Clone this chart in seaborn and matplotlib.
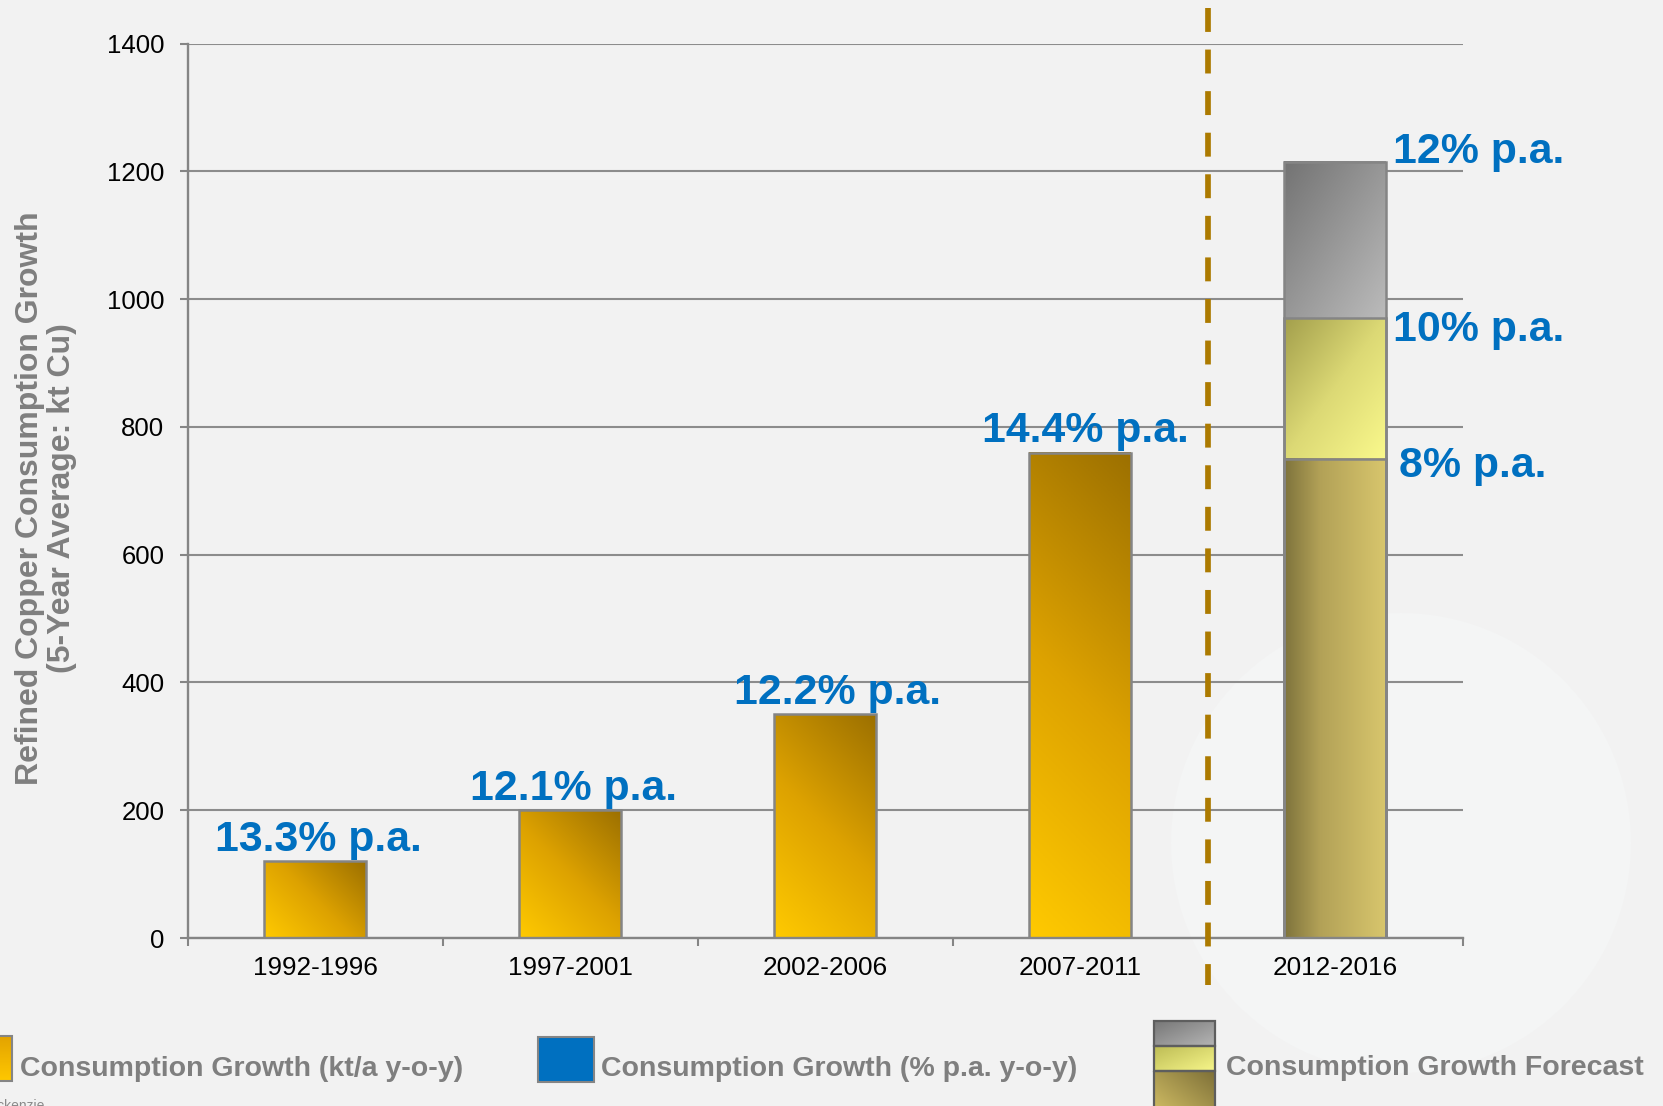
import numpy as np
import pandas as pd
import matplotlib
matplotlib.use("Agg")
import matplotlib.pyplot as plt
import matplotlib.transforms as mtransforms
from matplotlib.colors import LinearSegmentedColormap
from matplotlib.patches import Rectangle, Circle
import seaborn as sns

# ---------------- data ----------------
periods = ["1992-1996", "1997-2001", "2002-2006", "2007-2011", "2012-2016"]
hist_growth = [120, 200, 350, 760]                 # kt/a y-o-y (5-yr average)
hist_labels = ["13.3% p.a.", "12.1% p.a.", "12.2% p.a.", "14.4% p.a."]
forecast_period = "2012-2016"
forecast_growth = [750, 970, 1215]                 # cumulative levels: 8%, 10%, 12% p.a.
forecast_labels = ["8% p.a.", "10% p.a.", "12% p.a."]
y_ticks = [0, 200, 400, 600, 800, 1000, 1200, 1400]
legend_labels = ["Consumption Growth (kt/a y-o-y)",
                 "Consumption Growth (% p.a. y-o-y)",
                 "Consumption Growth Forecast"]
y_title = "Refined Copper Consumption Growth\n(5-Year Average: kt Cu)"

# ---------------- style ----------------
sns.set_theme(style="white")
plt.rcParams['font.family'] = ['Liberation Sans', 'DejaVu Sans']

BG = "#F2F2F2"
GRID = "#8C8C8C"
EDGE = "#858585"
BLUE = "#0070C0"
LGRAY = "#7F7F7F"
W, H, DPI = 1663, 1106, 100

fig = plt.figure(figsize=(W / DPI, H / DPI), dpi=DPI, facecolor=BG)

# faint watermark emblem behind the chart
bax = fig.add_axes([0, 0, 1, 1], zorder=0)
bax.set_xlim(0, W)
bax.set_ylim(H, 0)
bax.axis("off")
bax.add_patch(Circle((1401, 843), 230, facecolor="#F4F5F5", edgecolor="none"))

AX_L, AX_R, AX_T, AX_B = 188, 1462.6, 43.7, 938
ax = fig.add_axes([AX_L / W, 1 - AX_B / H, (AX_R - AX_L) / W, (AX_B - AX_T) / H], zorder=1)
ax.set_facecolor("none")

cm_gold = LinearSegmentedColormap.from_list("gold", [(0, "#FFCA00"), (0.5, "#DDA200"), (1, "#9C7000")])
cm_base = LinearSegmentedColormap.from_list("base", [(0, "#7E733C"), (0.35, "#B2A157"), (1, "#D8C66D")])
cm_yel = LinearSegmentedColormap.from_list("yel", [(0, "#A39F4C"), (0.5, "#DCD975"), (1, "#FAF98C")])
cm_gray = LinearSegmentedColormap.from_list("gray", [(0, "#737373"), (1, "#BBBBBB")])

N = 200
uu, vv = np.meshgrid(np.linspace(0, 1, N), np.linspace(0, 1, N))
T_diag_down = (uu + (1 - vv)) / 2  # dark at top-left -> light bottom-right
T_horiz = uu

px_per_x = (AX_R - AX_L) / len(periods)
px_per_y = (AX_B - AX_T) / 1400.0


def diag45(w_data, h_data):
    wp, hp = w_data * px_per_x, h_data * px_per_y
    return (uu * wp + vv * hp) / (wp + hp)


def fill_gradient(axis, x0, x1, y0, y1, T, cmap, z=2.5):
    axis.imshow(T, cmap=cmap, vmin=0, vmax=1, origin="lower", aspect="auto",
                extent=(x0, x1, y0, y1), interpolation="bilinear", zorder=z)


# ---------------- historical bars ----------------
hist_df = pd.DataFrame({"period": periods[:len(hist_growth)], "growth": hist_growth})
sns.barplot(data=hist_df, x="period", y="growth", order=periods, width=0.4,
            errorbar=None, color="#E0A000", edgecolor=EDGE, linewidth=1.8,
            ax=ax, zorder=3)
hist_patches = list(ax.patches)

# ---------------- forecast stacked bar (cumulative levels, largest first) ----------------
seg_cmaps = [cm_base, cm_yel, cm_gray]
seg_T = [T_horiz, T_diag_down, T_diag_down]
fc_patches = {}
for k in reversed(range(len(forecast_growth))):
    df = pd.DataFrame({"period": [forecast_period], "growth": [forecast_growth[k]]})
    n_before = len(ax.patches)
    sns.barplot(data=df, x="period", y="growth", order=periods, width=0.4,
                errorbar=None, color="#999999", edgecolor=EDGE, linewidth=1.8,
                ax=ax, zorder=3)
    fc_patches[k] = ax.patches[n_before]

# gradients
for p in hist_patches:
    x0, w, h = p.get_x(), p.get_width(), p.get_height()
    fill_gradient(ax, x0, x0 + w, 0, h, diag45(w, h), cm_gold)
    p.set_facecolor("none")

for k, p in fc_patches.items():
    x0, w = p.get_x(), p.get_width()
    lo = forecast_growth[k - 1] if k > 0 else 0
    fill_gradient(ax, x0, x0 + w, lo, forecast_growth[k], seg_T[k], seg_cmaps[k])
    p.set_facecolor("none")

# ---------------- labels ----------------
hist_label_dx = [2, 2.5, 8.5, 3.5]
for p, lbl, dx in zip(hist_patches, hist_labels, hist_label_dx):
    ax.annotate(lbl, xy=(p.get_x() + p.get_width() / 2, p.get_height()),
                xytext=(dx, 7.6), textcoords="offset points", ha="center", va="baseline",
                fontsize=30.8, fontweight="bold", color=BLUE, zorder=6)

fc_offsets = [(9.6, -13.0), (4.75, -16.0), (4.75, -0.8)]
for k, lbl in enumerate(forecast_labels):
    p = fc_patches[k]
    ax.annotate(lbl, xy=(p.get_x() + p.get_width(), forecast_growth[k]),
                xytext=fc_offsets[k], textcoords="offset points", ha="left", va="baseline",
                fontsize=30.8, fontweight="bold", color=BLUE, zorder=6, annotation_clip=False)

# ---------------- axes styling ----------------
ax.set_xlim(-0.5, len(periods) - 0.5)
ax.set_ylim(0, 1400)
ax.set_yticks(y_ticks)
ax.set_yticklabels([str(t) for t in y_ticks])
ax.set_xticks(range(len(periods)))
ax.set_xticklabels(periods)
ax.set_xticks(np.arange(-0.5, len(periods), 1.0), minor=True)
ax.set_xlabel("")
ax.set_ylabel("")
ax.set_axisbelow(True)
ax.yaxis.grid(True, color=GRID, linewidth=1.5, zorder=0.5)
ax.xaxis.grid(False)
for s in ["top", "right"]:
    ax.spines[s].set_visible(False)
for s in ["left", "bottom"]:
    ax.spines[s].set_color(EDGE)
    ax.spines[s].set_linewidth(1.7)
    ax.spines[s].set_zorder(4)
ax.tick_params(axis="y", which="major", direction="out", length=5.5, width=1.5,
               color=EDGE, labelcolor="black", labelsize=18.5, pad=11.5, left=True)
ax.tick_params(axis="x", which="major", length=0, labelcolor="black", labelsize=18.8, pad=13)
ax.tick_params(axis="x", which="minor", direction="out", length=5.5, width=1.5,
               color=EDGE, bottom=True)

# divider between history and forecast
divider_x = len(hist_growth) - 0.5
trans = mtransforms.blended_transform_factory(ax.transData, ax.transAxes)
ax.plot([divider_x, divider_x], [1.040, -0.0526], transform=trans, clip_on=False,
        color="#AC7A00", linewidth=4.1, linestyle=(0, (4.2, 3.1)),
        dash_capstyle="butt", zorder=5)

# y title
fig.text(46 / W, 1 - 498.5 / H, y_title, rotation=90, ha="center", va="center",
         multialignment="center", fontsize=23, fontweight="bold", color=LGRAY,
         linespacing=1.1)

# ---------------- legend (pixel overlay) ----------------
lax = fig.add_axes([0, 0, 1, 1], zorder=10)
lax.set_xlim(0, W)
lax.set_ylim(H, 0)
lax.axis("off")
lax.patch.set_visible(False)

cm_leg_gold = LinearSegmentedColormap.from_list("lg", [(0, "#FFC800"), (1, "#E3A300")])
fill_gradient(lax, -44, 12, 1081, 1036, vv, cm_leg_gold, z=2)
lax.add_patch(Rectangle((-44, 1036), 56, 45, fill=False, edgecolor=EDGE, linewidth=1.5, zorder=3))
lax.text(20, 1076, legend_labels[0], ha="left", va="baseline", fontsize=20.5,
         fontweight="bold", color=LGRAY)

lax.add_patch(Rectangle((538, 1037), 56, 45, facecolor=BLUE, edgecolor=EDGE, linewidth=1.5, zorder=3))
lax.text(601, 1076, legend_labels[1], ha="left", va="baseline", fontsize=20.5,
         fontweight="bold", color=LGRAY)

cm_leg_gray = LinearSegmentedColormap.from_list("lgr", [(0, "#777777"), (1, "#B5B5B5")])
cm_leg_yel = LinearSegmentedColormap.from_list("lye", [(0, "#BDBC55"), (1, "#F7F68A")])
cm_leg_base = LinearSegmentedColormap.from_list("lba", [(0, "#D8C468"), (1, "#7E7038")])
fill_gradient(lax, 1154, 1215, 1046, 1021, T_diag_down, cm_leg_gray, z=2)
fill_gradient(lax, 1154, 1215, 1071, 1046, T_diag_down, cm_leg_yel, z=2)
fill_gradient(lax, 1154, 1215, 1120, 1071, (uu + vv) / 2, cm_leg_base, z=2)
for (y0, y1) in [(1021, 1046), (1046, 1071), (1071, 1120)]:
    lax.add_patch(Rectangle((1154, y0), 61, y1 - y0, fill=False, edgecolor="#5E5E5E",
                            linewidth=1.6, zorder=3))
lax.text(1226, 1075, legend_labels[2], ha="left", va="baseline", fontsize=20.5,
         fontweight="bold", color=LGRAY)

lax.text(44, 1099, "Source: Wood Mackenzie", ha="right", va="top", fontsize=10, color="#8A8A8A")

fig.savefig("out.png", dpi=DPI, facecolor=BG)
